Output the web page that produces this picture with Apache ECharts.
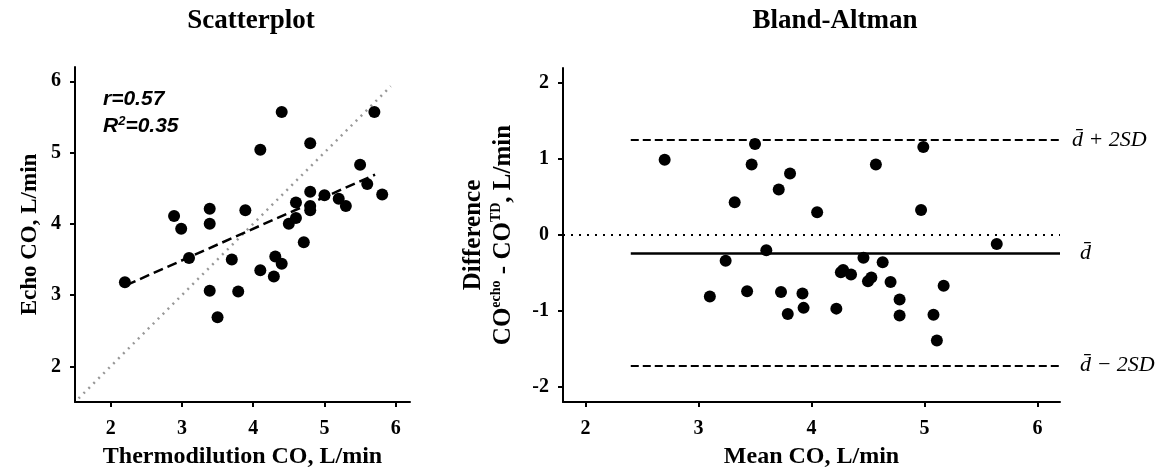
<!DOCTYPE html>
<html>
<head>
<meta charset="utf-8">
<script src="https://cdn.jsdelivr.net/npm/echarts@6/dist/echarts.min.js"></script>
<style>
html,body{margin:0;padding:0;background:#fff;}
#chart{width:1162px;height:468px;}
</style>
</head>
<body>
<div id="chart"></div>
<script>
// ---- Scatterplot data (Thermodilution CO vs Echo CO) ----
const tdCO   = [2.20,2.89,2.99,3.10,3.39,3.39,3.39,3.50,3.70,3.79,3.89,4.10,4.10,4.29,4.31,4.40,4.40,4.50,4.60,4.60,4.71,4.80,4.80,4.80,4.80,5.00,5.20,5.30,5.50,5.60,5.70,5.81];
const echoCO = [3.18,4.11,3.93,3.52,4.21,4.00,3.06,2.69,3.50,3.05,4.19,5.04,3.35,3.26,3.54,5.57,3.44,4.00,4.08,4.30,3.74,5.13,4.45,4.25,4.19,4.40,4.35,4.25,4.83,4.56,5.57,4.41];
const identityX = [1.55, 5.93];
const identityY = [1.55, 5.93];
const regressionX = [2.22, 5.71];
const regressionY = [3.14, 4.69];

// ---- Bland-Altman data ----
const meanCO = [2.70,3.50,3.47,3.81,3.71,3.32,4.05,4.57,4.99,4.97,5.64,3.60,3.24,3.10,3.43,3.73,3.79,3.92,3.93,4.22,4.26,4.28,4.35,4.46,4.50,4.53,4.63,4.70,4.78,4.78,5.08,5.17,5.11];
const diffCO = [0.99,1.20,0.93,0.81,0.60,0.43,0.30,0.93,1.16,0.33,-0.12,-0.20,-0.34,-0.81,-0.74,-0.75,-1.04,-0.77,-0.96,-0.97,-0.49,-0.46,-0.52,-0.30,-0.61,-0.56,-0.36,-0.62,-0.85,-1.06,-1.05,-0.67,-1.39];
const upperLimit = 1.25;
const meanDiff = -0.24;
const lowerLimit = -1.72;
const limitXRange = [2.4, 6.2];
const zeroXRange = [1.8, 6.2];

// ---- tick labels ----
const scatterXTicks = [2,3,4,5,6];
const scatterYTicks = [2,3,4,5,6];
const baXTicks = [2,3,4,5,6];
const baYTicks = [-2,-1,0,1,2];

const serif = '"Liberation Serif","Times New Roman",serif';
const sans = '"Liberation Sans",Arial,sans-serif';

function pairs(xs, ys){ return xs.map((x,i)=>[x, ys[i]]); }

function axisCommon(ticks, min, max, labelMargin){
  return {
    type:'value', min:min, max:max,
    splitLine:{show:false},
    axisLine:{show:true, onZero:false, lineStyle:{color:'#000', width:2}},
    axisTick:{show:true, customValues:ticks, length:5, lineStyle:{color:'#000', width:2}},
    axisLabel:{customValues:ticks, color:'#000', fontFamily:serif, fontWeight:'bold', fontSize:20, margin:labelMargin},
    nameLocation:'middle',
    nameMoveOverlap:false,
    nameTextStyle:{color:'#000', fontFamily:serif, fontWeight:'bold', fontSize:24}
  };
}

const chart = echarts.init(document.getElementById('chart'), null, {renderer:'canvas'});

const option = {
  backgroundColor:'#fff',
  animation:false,
  title:[
    {text:'Scatterplot', left:246, top:3, textAlign:'center',
     textStyle:{fontFamily:serif, fontWeight:'bold', fontSize:27, color:'#000'}},
    {text:'Bland-Altman', left:830, top:3, textAlign:'center',
     textStyle:{fontFamily:serif, fontWeight:'bold', fontSize:27, color:'#000'}}
  ],
  grid:[
    {left:75, top:67, width:335, height:335, containLabel:false, outerBoundsMode:'none'},
    {left:563, top:68, width:497, height:334, containLabel:false, outerBoundsMode:'none'}
  ],
  xAxis:[
    Object.assign(axisCommon(scatterXTicks, 1.5, 6.2, 17), {gridIndex:0, name:'Thermodilution CO, L/min', nameGap:43}),
    Object.assign(axisCommon(baXTicks, 1.8, 6.2, 17), {gridIndex:1, name:'Mean CO, L/min', nameGap:43})
  ],
  yAxis:[
    Object.assign(axisCommon(scatterYTicks, 1.5, 6.2, 14), {gridIndex:0, name:'Echo CO, L/min', nameGap:33,
      nameTextStyle:{color:'#000', fontFamily:serif, fontWeight:'bold', fontSize:23}}),
    Object.assign(axisCommon(baYTicks, -2.2, 2.2, 14), {gridIndex:1, nameGap:44,
      name:'{a|Difference}\n{b|CO}{s|echo}{b| - CO}{s|TD}{b|, L/min}',
      nameTextStyle:{color:'#000', fontFamily:serif, fontWeight:'bold', fontSize:25,
        rich:{
          a:{fontFamily:serif, fontWeight:'bold', fontSize:25, lineHeight:30, color:'#000'},
          b:{fontFamily:serif, fontWeight:'bold', fontSize:25, lineHeight:30, color:'#000'},
          s:{fontFamily:serif, fontWeight:'bold', fontSize:14, lineHeight:30, verticalAlign:'top', color:'#000'}
        }}
    })
  ],
  graphic:[
    {type:'text', left:103, top:89, style:{text:'r=0.57', font:'italic bold 21px '+sans, fill:'#000'}},
    {type:'text', left:103, top:115, style:{text:'R{sup|2}=0.35', font:'italic bold 21px '+sans, fill:'#000',
      rich:{sup:{font:'italic bold 13px '+sans, verticalAlign:'top', lineHeight:22}}}}
  ],
  series:[
    {type:'line', xAxisIndex:0, yAxisIndex:0, data:pairs(identityX, identityY), symbol:'none', silent:true,
     lineStyle:{color:'#999', width:2.5, type:[2,5]}, z:1},
    {type:'line', xAxisIndex:0, yAxisIndex:0, data:pairs(regressionX, regressionY), symbol:'none', silent:true,
     lineStyle:{color:'#000', width:2.5, type:[10,5]}, z:2},
    {type:'scatter', xAxisIndex:0, yAxisIndex:0, data:pairs(tdCO, echoCO), symbolSize:12,
     itemStyle:{color:'#000', opacity:1}, z:3},
    {type:'scatter', xAxisIndex:1, yAxisIndex:1, data:pairs(meanCO, diffCO), symbolSize:12,
     itemStyle:{color:'#000', opacity:1}, z:3,
     markLine:{
       silent:true, symbol:'none', animation:false,
       data:[
         [{coord:[zeroXRange[0],0], lineStyle:{color:'#000', width:2, type:[2,6]}, label:{show:false}}, {coord:[zeroXRange[1],0]}],
         [{coord:[limitXRange[0],upperLimit], lineStyle:{color:'#000', width:2, type:[8,4]},
           label:{show:true, position:'end', distance:12, formatter:'d\u0304 + 2SD', color:'#000', fontFamily:serif, fontStyle:'italic', fontSize:22}},
          {coord:[limitXRange[1],upperLimit]}],
         [{coord:[limitXRange[0],meanDiff], lineStyle:{color:'#000', width:2.5, type:'solid'},
           label:{show:true, position:'end', distance:20, formatter:'d\u0304', color:'#000', fontFamily:serif, fontStyle:'italic', fontSize:22}},
          {coord:[limitXRange[1],meanDiff]}],
         [{coord:[limitXRange[0],lowerLimit], lineStyle:{color:'#000', width:2, type:[8,4]},
           label:{show:true, position:'end', distance:20, formatter:'d\u0304 \u2212 2SD', color:'#000', fontFamily:serif, fontStyle:'italic', fontSize:22}},
          {coord:[limitXRange[1],lowerLimit]}]
       ]
     }}
  ]
};
chart.setOption(option);
</script>
</body>
</html>
